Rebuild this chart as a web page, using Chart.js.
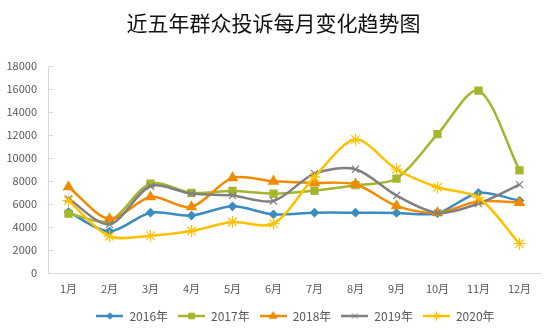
<!DOCTYPE html>
<html>
<head>
<meta charset="utf-8">
<script src="https://cdn.jsdelivr.net/npm/chart.js@4/dist/chart.umd.min.js"></script>
<style>
html,body{margin:0;padding:0;background:#fff;}
#wrap{width:554px;height:330px;position:relative;}
</style>
</head>
<body>
<div id="wrap"><canvas id="c" width="554" height="330"></canvas></div>
<script>
const titleText = '近五年群众投诉每月变化趋势图';
const months = ['1月','2月','3月','4月','5月','6月','7月','8月','9月','10月','11月','12月'];
const yTicks = [0,2000,4000,6000,8000,10000,12000,14000,16000,18000];
const seriesNames = ['2016年','2017年','2018年','2019年','2020年'];
const s2016 = [5300,3630,5250,5000,5800,5100,5250,5250,5230,5200,6970,6300];
const s2017 = [5170,4550,7780,6970,7140,6900,7170,7640,8220,12080,15880,8940];
const s2018 = [7490,4700,6620,5750,8280,7980,7840,7720,5840,5250,6240,6130];
const s2019 = [6450,4240,7550,6910,6740,6270,8650,9030,6740,5230,6040,7690];
const s2020 = [6300,3200,3250,3660,4440,4300,8360,11610,9030,7460,6560,2550];

const colors = ['#3A8CC0','#A5B52E','#F28A00','#808080','#FFC000'];
const styles = ['rectRot','rect','triangle','crossRot','star'];
const radii = [4,5,5.5,5,6];
const seriesData = [s2016,s2017,s2018,s2019,s2020];
const FONT = "'Noto Sans CJK SC','Noto Sans',sans-serif";

function legendIcon(i){
  const cv = document.createElement('canvas');
  cv.width = 27; cv.height = 12;
  const ctx = cv.getContext('2d');
  ctx.strokeStyle = colors[i]; ctx.fillStyle = colors[i];
  ctx.lineWidth = 2.5;
  ctx.beginPath(); ctx.moveTo(0,6); ctx.lineTo(27,6); ctx.stroke();
  ctx.lineWidth = 1;
  Chart.helpers.drawPoint(ctx,{pointStyle:styles[i],radius:radii[i]*0.8,rotation:0,borderWidth:1},13.5,6);
  return cv;
}
const icons = seriesNames.map((_,i)=>legendIcon(i));

const datasets = seriesNames.map((n,i)=>({
  label:n,
  data:seriesData[i],
  borderColor:colors[i],
  backgroundColor:colors[i],
  borderWidth:2.5,
  pointStyle:styles[i],
  pointRadius:radii[i],
  pointBorderWidth:1.2,
  pointBorderColor:colors[i],
  pointBackgroundColor:colors[i],
  tension:0.3,
  order:4-i
}));

const legendNudge = {
  id:'legendNudge',
  afterLayout(chart){
    const lg = chart.legend;
    if(lg){ lg.top -= 4; lg.bottom -= 4; lg.left += 22; lg.right += 22; }
  }
};

new Chart(document.getElementById('c'),{
  type:'line',
  data:{labels:months,datasets},
  plugins:[legendNudge],
  options:{
    responsive:false,
    animation:false,
    layout:{padding:{left:7,right:14,top:0,bottom:-6}},
    plugins:{
      title:{display:true,text:titleText,color:'#111',font:{family:FONT,size:21,weight:'normal'},padding:{top:10,bottom:31}},
      legend:{
        position:'bottom',
        labels:{
          usePointStyle:true,
          pointStyleWidth:27,
          boxHeight:12,
          padding:10,
          color:'#595959',
          font:{family:FONT,size:12},
          sort:(a,b)=>a.datasetIndex-b.datasetIndex,
          generateLabels:(chart)=>{
            const items = Chart.defaults.plugins.legend.labels.generateLabels(chart);
            items.forEach(it=>{it.pointStyle = icons[it.datasetIndex];});
            return items;
          }
        }
      },
      tooltip:{enabled:false}
    },
    scales:{
      x:{
        offset:true,
        grid:{drawOnChartArea:false,drawTicks:false,color:'#D9D9D9'},
        border:{color:'#D9D9D9',width:1},
        ticks:{color:'#595959',font:{family:FONT,size:11,lineHeight:1},padding:10,maxRotation:0,autoSkip:false}
      },
      y:{
        min:0,max:18000,
        afterBuildTicks:(ax)=>{ax.ticks = yTicks.map(v=>({value:v}));},
        afterFit:(ax)=>{ax.width = 41;},
        grid:{drawOnChartArea:false,drawTicks:true,tickLength:-5,color:'#D9D9D9'},
        border:{color:'#D9D9D9',width:1},
        ticks:{color:'#595959',font:{family:FONT,size:11},padding:16,callback:(v)=>String(v)}
      }
    }
  }
});
</script>
</body>
</html>
